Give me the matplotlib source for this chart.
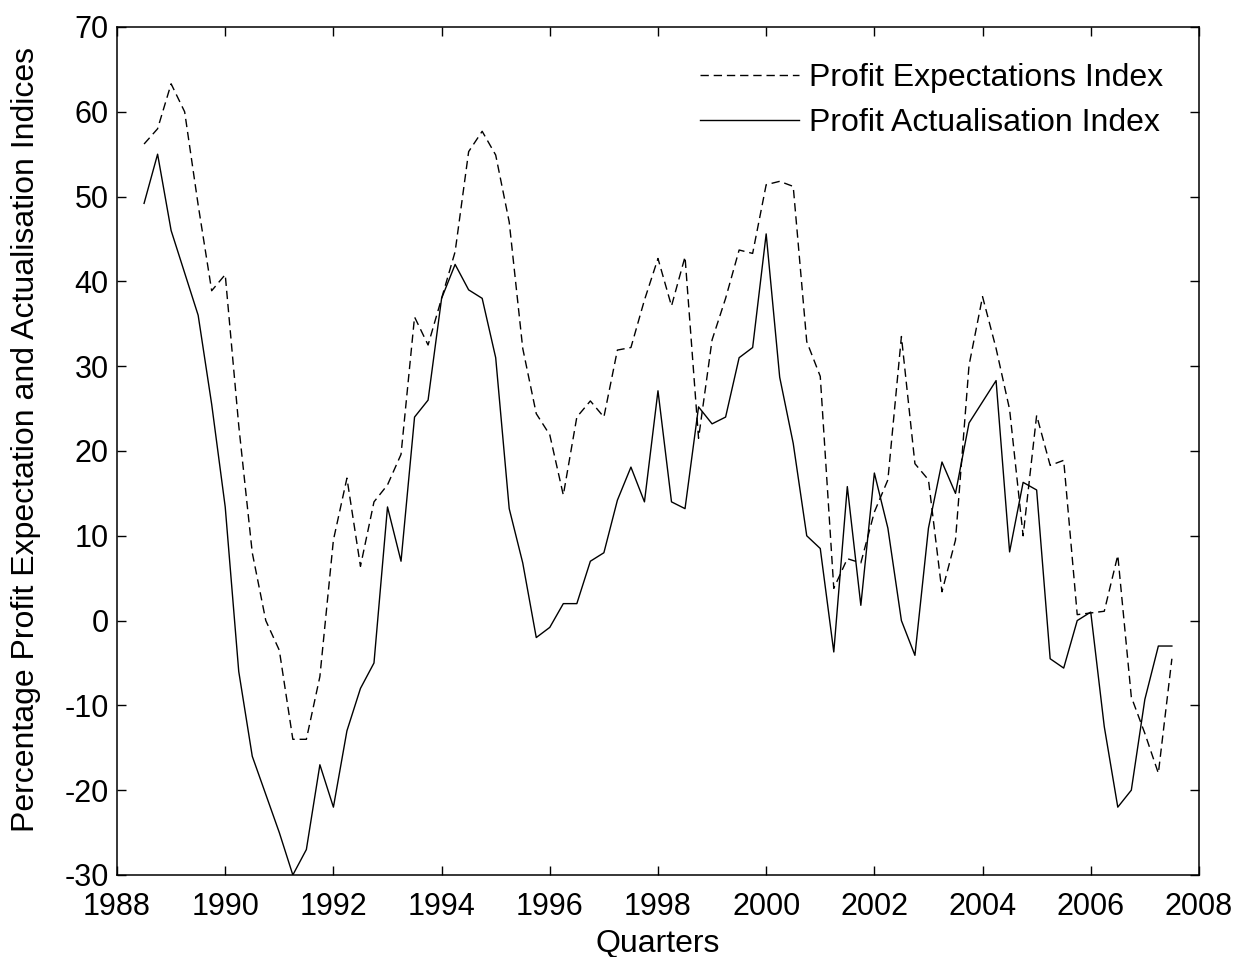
import numpy as np
import matplotlib
matplotlib.use('Agg')
import matplotlib.pyplot as plt

# Quarterly observations, 1988 Q3 .. 2007 Q3
quarters = np.arange(1988.5, 2007.51, 0.25)

expectations = [
    56.2, 58.0, 63.3, 60.0, 49.0, 38.9, 40.8, 23.0, 8.0, 0.0,
    -3.5, -14.0, -14.0, -6.6, 9.5, 16.8, 6.4, 14.0, 16.0, 19.6,
    35.8, 32.5, 38.0, 43.5, 55.3, 57.7, 54.9, 47.0, 32.1, 24.4,
    21.9, 14.8, 24.0, 25.9, 24.0, 31.9, 32.2, 37.8, 42.7, 37.1,
    42.9, 21.5, 33.1, 38.0, 43.7, 43.3, 51.4, 51.8, 51.2, 32.9,
    28.8, 3.8, 7.3, 6.8, 12.8, 16.6, 33.5, 18.5, 16.6, 3.4,
    9.5, 30.1, 38.2, 32.1, 24.9, 10.0, 24.2, 18.3, 18.9, 0.7,
    0.9, 1.1, 7.7, -9.0, -13.3, -18.0, -4.5,
]

actualisation = [
    49.2, 55.0, 46.0, 41.0, 36.0, 25.5, 13.4, -6.0, -16.0, -20.5,
    -25.0, -30.0, -27.0, -17.0, -22.0, -13.0, -8.0, -5.0, 13.4, 7.0,
    24.0, 26.0, 38.0, 42.0, 39.0, 38.0, 31.0, 13.2, 6.8, -2.0,
    -0.8, 2.0, 2.0, 7.0, 8.0, 14.2, 18.1, 14.0, 27.1, 14.0,
    13.2, 25.2, 23.2, 24.0, 31.0, 32.2, 45.6, 28.7, 20.9, 10.0,
    8.5, -3.7, 15.8, 1.8, 17.4, 10.9, 0.0, -4.1, 10.9, 18.7,
    15.0, 23.3, 25.8, 28.3, 8.1, 16.3, 15.4, -4.5, -5.6, 0.0,
    1.0, -12.5, -22.0, -20.0, -9.3, -3.0, -3.0,
]

plt.rcParams['font.family'] = ['Liberation Sans', 'DejaVu Sans']
plt.rcParams['axes.unicode_minus'] = False

fig = plt.figure(figsize=(12.41, 9.57), dpi=100)
ax = fig.add_axes([0.0943, 0.0857, 0.8718, 0.8861])

ax.plot(quarters, expectations, color='black', linewidth=1.0,
        linestyle=(0, (6, 3.5)), label='Profit Expectations Index')
ax.plot(quarters, actualisation, color='black', linewidth=1.0,
        label='Profit Actualisation Index')

ax.set_xlim(1988, 2008)
ax.set_ylim(-30, 70)
ax.set_xticks(np.arange(1988, 2009, 2))
ax.set_yticks(np.arange(-30, 71, 10))
ax.tick_params(direction='in', length=6.5, width=1, top=True, right=True,
               labelsize=22, pad=6)
ax.tick_params(axis='x', pad=12)
for side in ax.spines.values():
    side.set_linewidth(1.1)

ax.set_xlabel('Quarters', fontsize=23, labelpad=5)
ax.set_ylabel('Percentage Profit Expectation and Actualisation Indices',
              fontsize=23)
ax.yaxis.set_label_coords(-0.070, 0.513)

ax.legend(loc='upper right', frameon=False, fontsize=23, handlelength=3.1,
          handletextpad=0.3, labelspacing=0.48, borderaxespad=0.72)

fig.savefig('out.png', dpi=100)
